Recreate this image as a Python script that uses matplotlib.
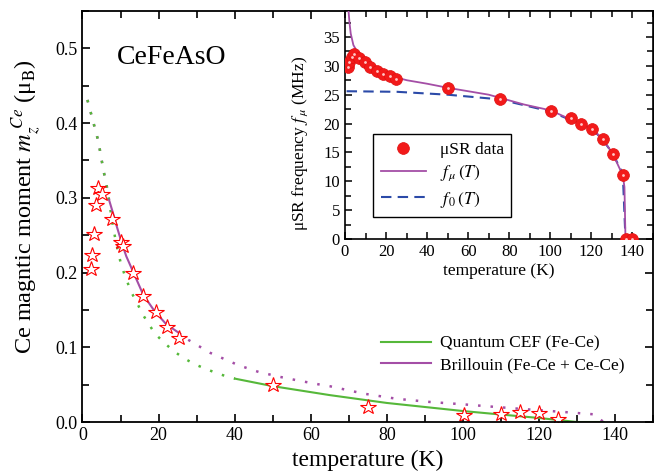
import numpy as np
import matplotlib
matplotlib.use("Agg")
import matplotlib.pyplot as plt
from matplotlib.ticker import MultipleLocator

plt.rcParams['font.family'] = ['Liberation Serif', 'DejaVu Serif']
plt.rcParams['mathtext.fontset'] = 'stix'

# %% main panel data : Ce moment vs temperature
T_star = [2.2, 2.6, 3.0, 3.6, 4.2, 5.0, 7.8, 10.2, 10.6, 13.4, 16.0, 19.2, 22.2, 25.4,
          50.2, 75.0, 100.2, 110.0, 115.0, 120.0, 125.0]
m_star = [0.205, 0.224, 0.252, 0.291, 0.313, 0.305, 0.271, 0.241, 0.235, 0.200, 0.169,
          0.147, 0.127, 0.113, 0.049, 0.020, 0.010, 0.011, 0.013, 0.0126, 0.0036]

# quantum CEF (Fe-Ce): dotted below 40 K, solid above
T_cef_dot = [1.3, 2.7, 4.2, 5.5, 6.4, 7.0, 8.0, 9.0, 10.0, 11.0, 12.8, 14.3, 15.6, 17.3,
             19.1, 21.7, 24.2, 26.8, 29.6, 32.2, 35.1, 37.9, 40.1]
m_cef_dot = [0.431, 0.404, 0.375, 0.337, 0.315, 0.295, 0.262, 0.236, 0.214, 0.198, 0.174,
             0.160, 0.146, 0.132, 0.118, 0.105, 0.094, 0.085, 0.077, 0.0716, 0.0657,
             0.061, 0.058]
T_cef = [40.1, 50.0, 65.0, 80.0, 100.0, 110.0, 120.0, 130.0, 137.0]
m_cef = [0.058, 0.048, 0.036, 0.0255, 0.0147, 0.010, 0.0054, 0.0, 0.0]

# Brillouin (Fe-Ce + Ce-Ce): solid between 7 and 26 K, dotted elsewhere
T_bri_lo = [1.3, 2.7, 4.2, 5.5, 6.4, 7.0]
m_bri_lo = [0.431, 0.404, 0.375, 0.337, 0.315, 0.297]
T_bri = [7.0, 8.0, 9.0, 10.3, 11.5, 13.4, 16.0, 19.0, 22.0, 25.7]
m_bri = [0.297, 0.280, 0.262, 0.240, 0.222, 0.200, 0.170, 0.148, 0.131, 0.118]
T_bri_hi = [27.8, 33.6, 41.0, 46.3, 52.0, 57.2, 62.5, 65.1, 73.9, 82.7, 91.4, 100.0,
            109.0, 117.8, 126.5, 134.4, 137.0]
m_bri_hi = [0.110, 0.0925, 0.076, 0.067, 0.0603, 0.055, 0.050, 0.0478, 0.038, 0.031,
            0.0268, 0.0237, 0.020, 0.0166, 0.0134, 0.0103, 0.0]

# %% inset data : muSR frequency
T_mu = [1.6, 2.1, 3.3, 4.4, 7.0, 9.8, 12.2, 15.5, 18.4, 21.7, 24.9, 50.0, 75.3, 100.2,
        110.0, 114.9, 120.3, 125.5, 130.4, 135.3, 136.8, 139.8]
f_mu = [29.8, 30.7, 31.5, 32.1, 31.3, 30.7, 29.8, 29.1, 28.5, 28.2, 27.8, 26.1, 24.3,
        22.2, 20.9, 20.0, 19.0, 17.4, 14.8, 11.1, 0.0, 0.0]

T_fmu = [1.5, 2.2, 2.8, 4.1, 6.5, 9.0, 13.9, 20.4, 30.2, 40.0, 50.0, 70.0, 87.2, 100.0,
         110.0, 120.0, 125.5, 130.4, 135.3, 136.1, 136.6]
f_fmu = [40.5, 37.5, 35.6, 33.6, 32.1, 31.0, 29.5, 28.4, 27.5, 26.9, 26.2, 25.0, 23.3,
         22.3, 20.7, 19.2, 17.3, 14.8, 11.0, 9.0, 0.0]

T_f0 = [0.8, 25.3, 50.0, 75.0, 87.0, 100.0, 110.0, 120.0, 125.5, 130.4, 135.3, 136.6]
f_f0 = [25.6, 25.5, 25.0, 24.2, 23.2, 22.1, 20.6, 19.2, 17.2, 14.8, 11.3, 0.0]

green = '#56b83a'
purple = '#a44ea6'
blue = '#2b4aa8'

fig = plt.figure(figsize=(6.62, 4.74), dpi=100)
ax = fig.add_axes([0.1246, 0.1097, 0.8618, 0.8671])

dot = (0, (1, 4))
ax.plot(T_bri_lo, m_bri_lo, color=purple, lw=1.8, ls=dot)
ax.plot(T_bri_hi, m_bri_hi, color=purple, lw=1.8, ls=dot)
ax.plot(T_cef_dot, m_cef_dot, color=green, lw=1.8, ls=dot)
ax.plot(T_cef, m_cef, color=green, lw=1.5, label='Quantum CEF (Fe-Ce)')
ax.plot(T_bri, m_bri, color=purple, lw=1.5, label='Brillouin (Fe-Ce + Ce-Ce)')
ax.plot(T_star, m_star, ls='none', marker='*', ms=11.5, mfc='white', mec='red', mew=0.8)

ax.set_xlim(0, 150)
ax.set_ylim(0, 0.55)
ax.xaxis.set_minor_locator(MultipleLocator(10))
ax.yaxis.set_major_locator(MultipleLocator(0.1))
ax.yaxis.set_minor_locator(MultipleLocator(0.05))
ax.set_xticks([0, 20, 40, 60, 80, 100, 120, 140])
ax.yaxis.set_major_formatter(matplotlib.ticker.FormatStrFormatter('%.1f'))
ax.tick_params(which='both', direction='in', top=True, right=True, width=1.2, labelsize=13)
ax.tick_params(which='major', length=6)
ax.tick_params(which='minor', length=5)
for s in ax.spines.values():
    s.set_linewidth(1.3)
ax.set_xlabel('temperature (K)', fontsize=17, labelpad=4)
ax.set_ylabel(r'Ce magntic moment $m_z^{\ Ce}$ (μ$_{\rm B}$)', fontsize=17.5)
ax.yaxis.set_label_coords(-0.068, 0.523)
ax.text(0.06, 0.886, 'CeFeAsO', transform=ax.transAxes, fontsize=20, va='center')
ax.legend(loc='upper left', bbox_to_anchor=(0.495, 0.248), frameon=False, fontsize=12.5,
          handlelength=2.9, handletextpad=0.5, labelspacing=0.3)

# %% inset
axi = fig.add_axes([0.5211, 0.4958, 0.4653, 0.481])
axi.plot(T_f0, f_f0, color=blue, lw=1.5, ls=(0, (5, 3)), label=r'$f_{\,0}\,(T)$', zorder=2)
axi.plot(T_fmu, f_fmu, color=purple, lw=1.3, label=r'$f_{\,\mu}\,(T)$', zorder=3)
axi.plot(T_mu, f_mu, ls='none', marker='o', ms=8.5, mfc='#f21a1a', mec='#e01010', mew=0.5,
         label='μSR data', zorder=4)
axi.plot(T_mu, f_mu, ls='none', marker='o', ms=2.0, mfc='#ffc8c8', mec='none', zorder=5)

axi.set_xlim(0, 150)
axi.set_ylim(0, 39.5)
axi.xaxis.set_minor_locator(MultipleLocator(10))
axi.yaxis.set_major_locator(MultipleLocator(5))
axi.yaxis.set_minor_locator(MultipleLocator(2.5))
axi.set_xticks([0, 20, 40, 60, 80, 100, 120, 140])
axi.tick_params(which='both', direction='in', top=True, right=True, width=1.1, labelsize=12)
axi.tick_params(which='major', length=5)
axi.tick_params(which='minor', length=4)
for s in axi.spines.values():
    s.set_linewidth(1.2)
axi.set_xlabel('temperature (K)', fontsize=12.5, labelpad=2)
axi.set_ylabel(r'μSR frequency $f_{\,\mu}$ (MHz)', fontsize=12.5)
axi.yaxis.set_label_coords(-0.115, 0.42)

h, l = axi.get_legend_handles_labels()
leg = axi.legend([h[2], h[1], h[0]], [l[2], l[1], l[0]], loc='lower left',
                 bbox_to_anchor=(0.09, 0.095), borderaxespad=0, fontsize=12.5,
                 fancybox=False, edgecolor='black', framealpha=1, handlelength=2.6,
                 borderpad=0.45, labelspacing=0.35)
leg.get_frame().set_linewidth(1.0)

fig.savefig('out.png', dpi=100)
